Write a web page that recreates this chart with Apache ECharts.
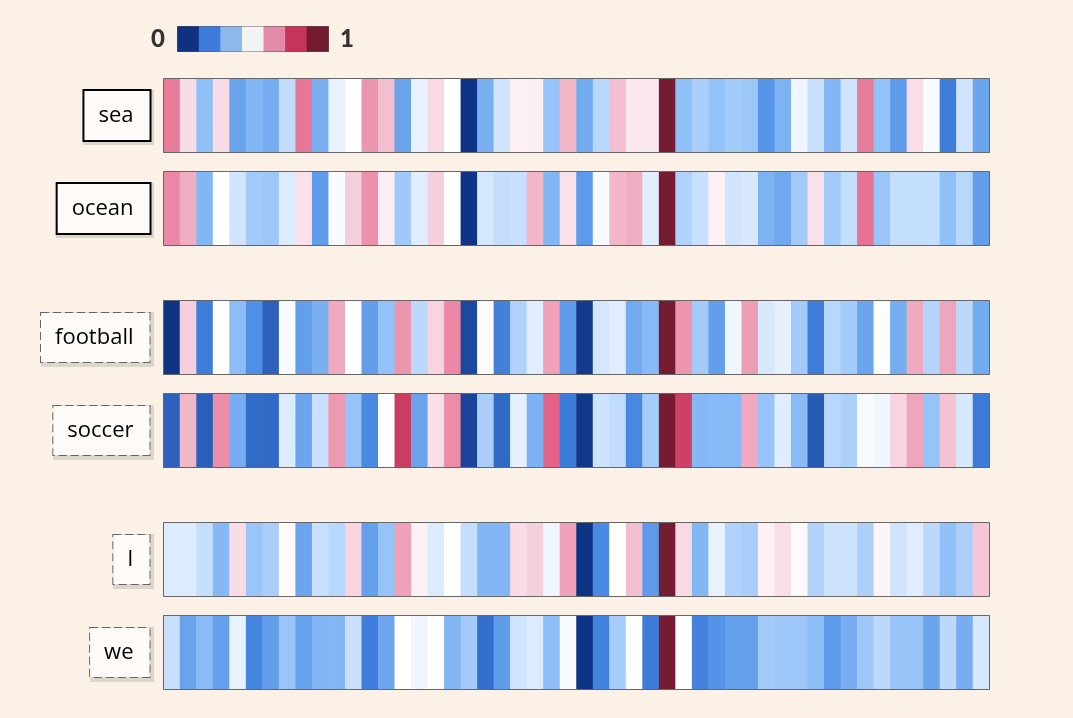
<!DOCTYPE html>
<html><head><meta charset="utf-8">
<style>html,body{margin:0;padding:0;background:#fcf1e7}#c{width:1073px;height:718px}</style>
<script src="https://cdn.jsdelivr.net/npm/echarts@6/dist/echarts.min.js"></script>
</head><body><div id="c"></div>
<script>
const sea=[.70,.575,.35,.575,.26,.32,.29,.42,.71,.30,.47,.50,.67,.62,.26,.47,.58,.50,0,.30,.44,.53,.535,.36,.63,.28,.41,.62,.55,.55,1,.35,.39,.355,.38,.37,.22,.31,.48,.43,.32,.44,.70,.355,.235,.57,.49,.17,.44,.265];
const ocean=[.685,.64,.32,.50,.44,.38,.37,.455,.565,.24,.49,.60,.675,.54,.375,.46,.60,.50,0,.445,.425,.43,.63,.32,.565,.235,.49,.63,.64,.46,1,.40,.43,.53,.44,.45,.31,.275,.38,.565,.38,.425,.72,.365,.425,.425,.425,.35,.41,.245];
const football=[0,.60,.17,.50,.34,.205,.105,.49,.245,.30,.645,.50,.245,.355,.67,.415,.59,.685,.05,.51,.175,.40,.46,.655,.235,.015,.445,.46,.285,.33,1,.67,.38,.245,.48,.66,.45,.465,.38,.17,.41,.38,.265,.495,.29,.645,.405,.65,.415,.285];
const soccer=[.11,.63,.10,.68,.295,.13,.125,.455,.265,.43,.665,.36,.195,.495,.83,.26,.57,.68,.04,.39,.125,.465,.305,.755,.165,.01,.435,.42,.19,.385,1,.82,.325,.33,.33,.645,.36,.46,.335,.09,.41,.395,.49,.48,.59,.65,.36,.615,.45,.165];
const wordI=[.455,.455,.425,.325,.575,.365,.39,.51,.265,.43,.41,.59,.25,.36,.655,.53,.455,.50,.425,.32,.32,.575,.60,.48,.655,0,.195,.50,.62,.235,1,.58,.32,.47,.40,.39,.53,.57,.51,.40,.435,.435,.395,.525,.44,.46,.415,.35,.395,.61];
const we=[.43,.26,.335,.25,.47,.185,.245,.365,.255,.32,.32,.43,.17,.27,.50,.48,.50,.32,.38,.14,.24,.44,.455,.345,.49,0,.18,.385,.495,.165,1,.50,.18,.215,.25,.25,.38,.37,.37,.34,.235,.295,.37,.415,.36,.36,.265,.415,.295,.445];
const labels=["sea","ocean","football","soccer","I","we"];
const rows=[sea,ocean,football,soccer,wordI,we];
const tops=[78.5,171.5,300.5,393.5,522.5,615.5];
const solid=[true,true,false,false,false,false];
const legendValues=[0,1,2,3,4,5,6];
const legendColors=["#103182","#3c7adb","#8cb9ec","#f3f3f3","#e28aa6","#c7345a","#731b30"];
const scaleColors=["#0f3485","#1d48a0","#2a5eb8","#3673d3","#4d8de4","#64a0eb","#7ab0f2","#90c0f8","#b0d2fb","#d8e9fe","#ffffff","#fbe8ef","#f6cfdc","#efa5bc","#e87c9b","#e3658b","#d8486f","#c0355a","#a62c4d","#8c2340","#751c33"];
const legendTicks=["0","1"];
const positions=[...Array(50).keys()];
const shadowBoxes=[[83,90,71,55],[56,183,98,55],[41,312,113,55],[53,405,101,55],[113,534,41,55],[90,627,64,55]];

const grids=[],xAxes=[],yAxes=[],series=[];
rows.forEach((r,i)=>{
  grids.push({left:163.5,width:826,top:tops[i],height:74,show:true,backgroundColor:'transparent',borderColor:'#666',borderWidth:1,z:10});
  xAxes.push({type:'category',gridIndex:i,data:positions,show:false});
  yAxes.push({type:'category',gridIndex:i,data:[labels[i]],axisLine:{show:false},axisTick:{show:false},z:5,
    axisLabel:{show:true,margin:14,fontFamily:'Open Sans',fontSize:22,color:'#000',
      backgroundColor:'#fffbf8',
      borderColor:solid[i]?'#000':'#666',borderWidth:solid[i]?2:1,borderType:solid[i]?'solid':'dashed',
      padding:[14,16,8,14],lineHeight:27}});
  series.push({type:'heatmap',xAxisIndex:i,yAxisIndex:i,data:r.map((v,k)=>[k,0,v]),silent:true,progressive:0,emphasis:{disabled:true},z:2});
});
grids.push({left:177.5,width:151,top:26.5,height:25,show:true,backgroundColor:'transparent',borderColor:'rgba(0,0,0,0.3)',borderWidth:1,z:10});
xAxes.push({type:'category',gridIndex:6,data:legendValues,show:false});
yAxes.push({type:'category',gridIndex:6,data:['k'],show:false});
series.push({type:'heatmap',xAxisIndex:6,yAxisIndex:6,data:legendValues.map((v,k)=>[k,0,v]),silent:true,progressive:0,emphasis:{disabled:true},z:2});

const chart=echarts.init(document.getElementById('c'),null,{renderer:'canvas'});
chart.setOption({
  animation:false,backgroundColor:'#fcf1e7',tooltip:{show:false},
  grid:grids,xAxis:xAxes,yAxis:yAxes,series,
  visualMap:[
    {show:false,type:'continuous',seriesIndex:[0,1,2,3,4,5],min:0,max:1,dimension:2,inRange:{color:scaleColors}},
    {show:false,type:'continuous',seriesIndex:6,min:0,max:6,dimension:2,inRange:{color:legendColors}}
  ],
  graphic:[
    ...shadowBoxes.map(b=>({type:'rect',z:-1,silent:true,shape:{x:b[0],y:b[1],width:b[2],height:b[3]},style:{fill:'#dcd5cb'}})),
    {type:'text',left:151,top:27,style:{text:legendTicks[0],font:'900 24px Lato',fill:'#333'}},
    {type:'text',left:340,top:27,style:{text:legendTicks[1],font:'900 24px Lato',fill:'#333'}}
  ]
});
</script></body></html>
